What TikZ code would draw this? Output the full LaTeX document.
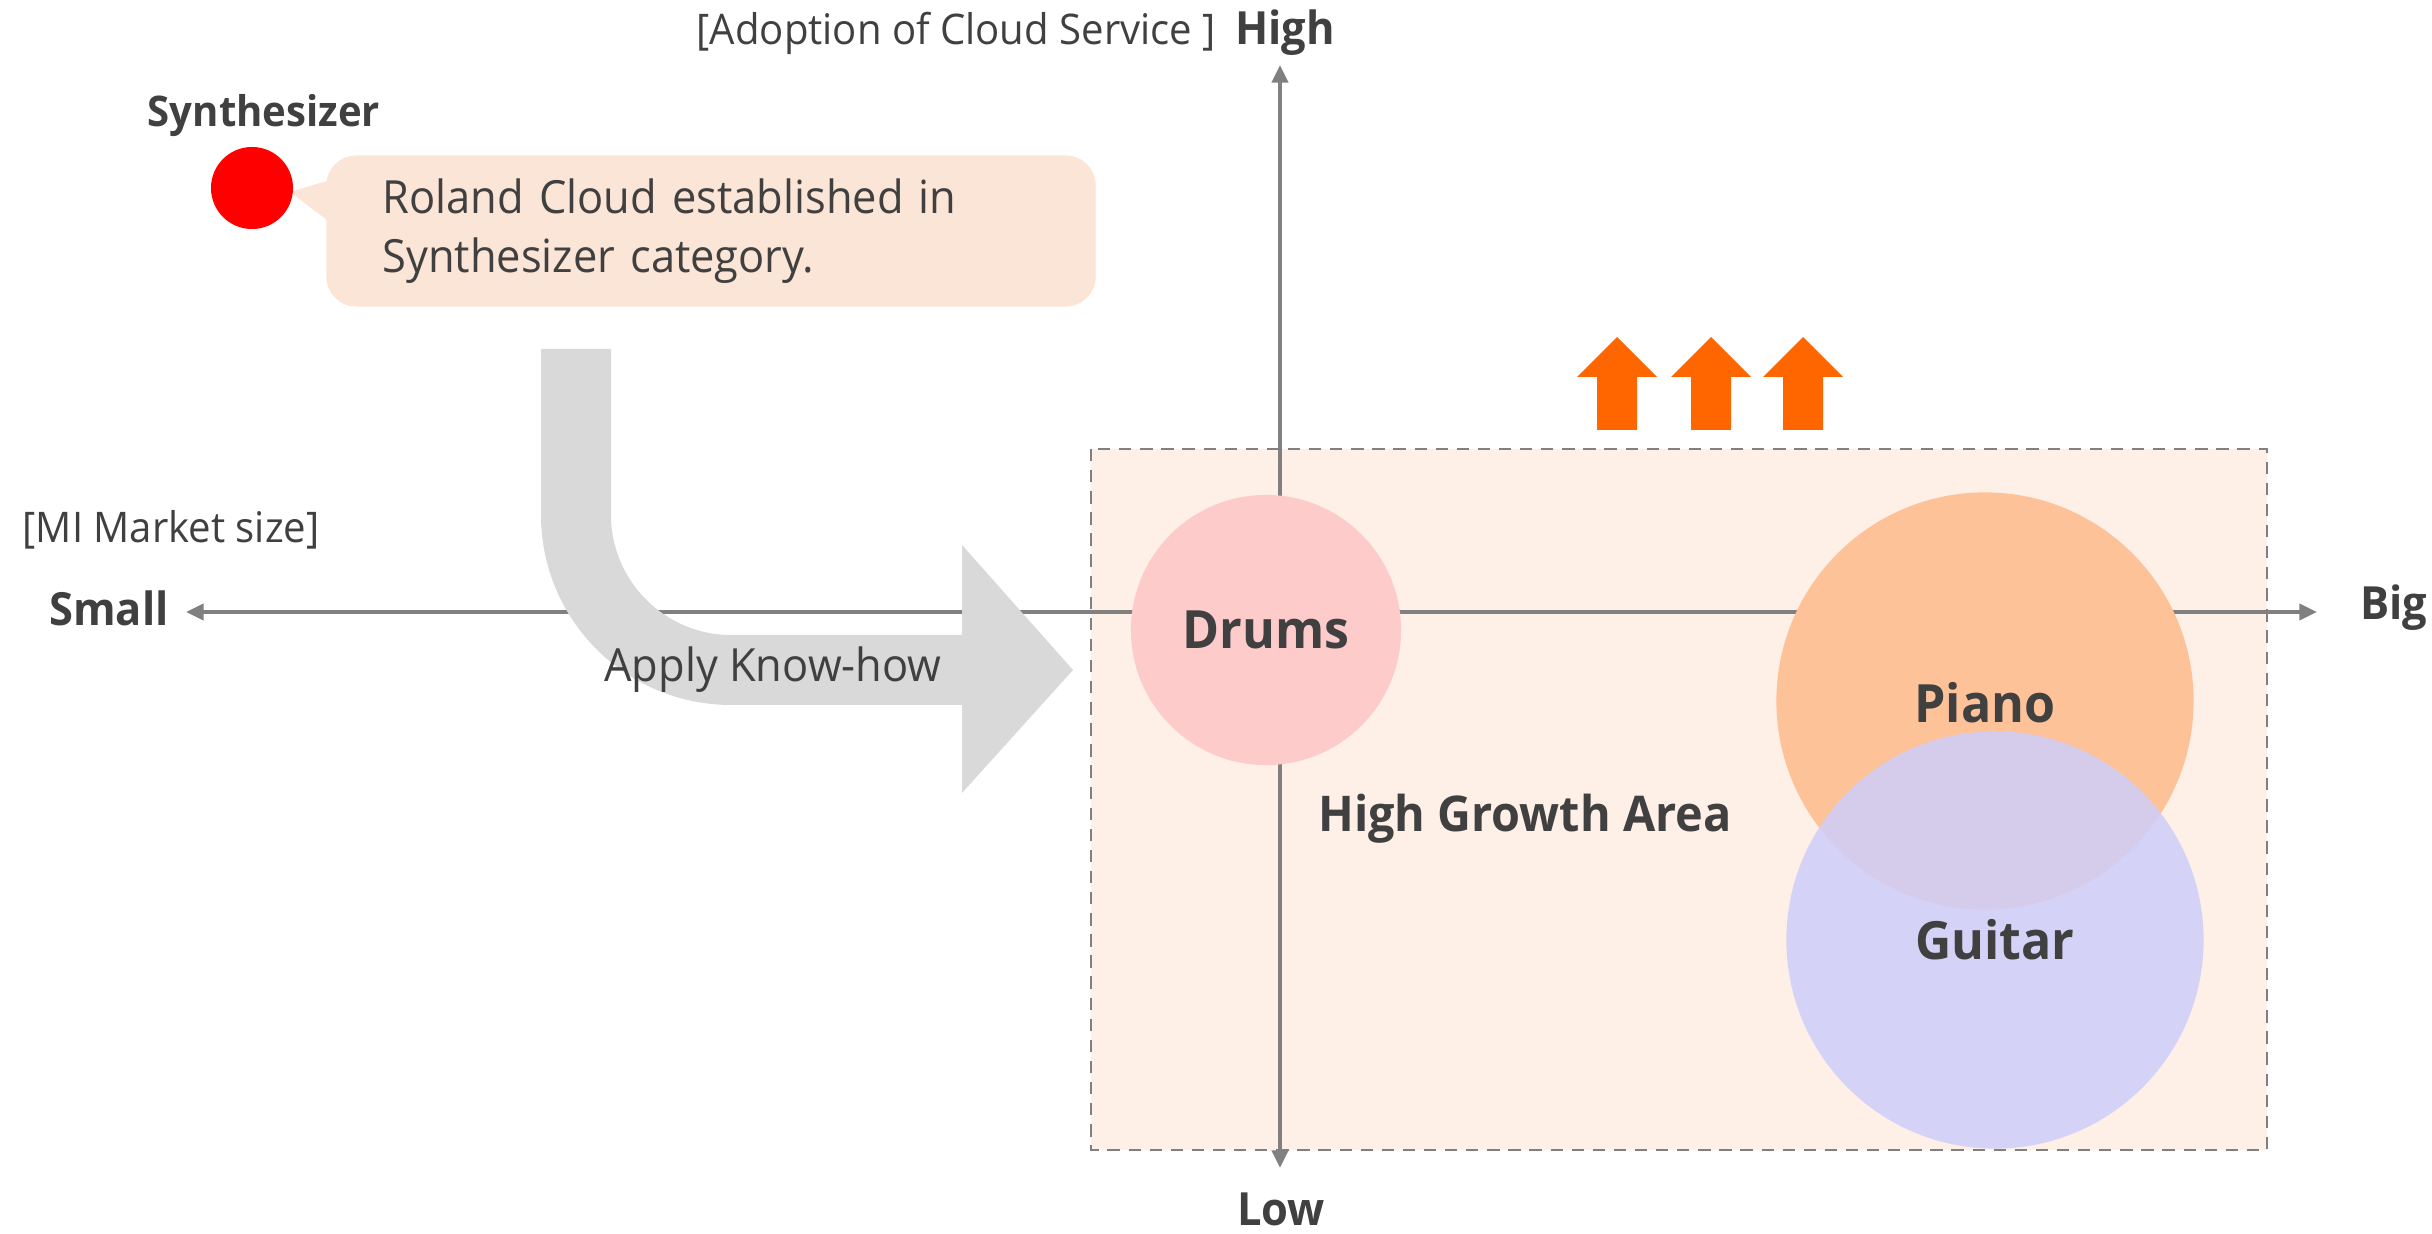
\documentclass[tikz,border=0pt]{standalone}
\usepackage{fontspec}
\setmainfont{Open Sans}[FakeStretch=0.95]
\usepackage{tikz}
\usetikzlibrary{positioning,arrows.meta}
\usepackage{xcolor}
\definecolor{txtgray}{RGB}{64,64,64}
\definecolor{axisgray}{RGB}{128,128,128}
\definecolor{notefill}{RGB}{251,229,214}
\definecolor{areafill}{RGB}{254,239,231}
\definecolor{bendfill}{RGB}{217,217,217}
\definecolor{drumfill}{RGB}{254,203,203}
\definecolor{pianofill}{RGB}{254,194,153}
\definecolor{guitarfill}{RGB}{206,206,250}
\definecolor{upfill}{RGB}{255,102,0}

\begin{document}
\begin{tikzpicture}[x=0.01cm,y=-0.01cm]
	\tikzstyle{every node}=[font=\fontsize{13}{16.8}\selectfont, text=txtgray, inner sep=0pt]
	\tikzstyle{axis}=[draw=axisgray, line width=1.3pt, >={Triangle[length=5pt,width=4.5pt]}, <->]
	\tikzstyle{bold}=[font=\bfseries\fontsize{13}{16}\selectfont]
	\tikzstyle{small}=[font=\fontsize{12}{14}\selectfont]
	\useasboundingbox (0,0) rectangle (2432,1234);

	% synthesizer callout
	\fill[notefill] (327,181) -- (290,192) -- (327,220) -- cycle;
	\draw (711,231) node (note) [fill=notefill, rounded corners=0.3cm, minimum height=1.51cm, text width=6.57cm, inner xsep=0.56cm, align=left] {Roland Cloud established in\\Synthesizer category.};
	\draw (252,188) node (red) [circle, fill=red, minimum size=0.82cm] {};
	\draw (264,116) node (synth) [font=\bfseries\fontsize{12}{14}\selectfont] {Synthesizer};

	% high growth area
	\draw[draw=axisgray, line width=0.6pt, dash pattern=on 3.5pt off 2.5pt, fill=areafill] (1091,449) rectangle (2267,1150);
	\foreach \x in {1617,1711,1803}
		\fill[upfill] (\x-20,430) -- (\x-20,377) -- (\x-40,377) -- (\x,337) -- (\x+40,377) -- (\x+20,377) -- (\x+20,430) -- cycle;

	% axes
	\coordinate (ytop) at (1280,65);
	\coordinate (ybot) at (1280,1168);
	\coordinate (xleft) at (186,612);
	\coordinate (xright) at (2317,612);
	\draw[axis] (ybot) -- (ytop);
	\draw[axis] (xleft) -- (xright);
	\draw (1285,33) node (high) [bold] {High};
	\draw (1281,1209) node (low) [bold] {Low};
	\draw (109,608) node (small) [bold] {Small};
	\draw (2394,608) node (big) [bold] {Big};
	\node (adopt) [small, anchor=base east] at ([xshift=-0.18cm]high.base west) {[Adoption of Cloud Service ]};
	\draw (22,530) node (market) [small, anchor=west] {[MI Market size]};

	% know-how arrow
	\fill[bendfill] (541,349) -- (541,515) .. controls (541,620) and (626,705) .. (731,705) -- (962,705) -- (962,793) -- (1073,670) -- (962,545) -- (962,635) -- (731,635) .. controls (665,635) and (611,581) .. (611,515) -- (611,349) -- cycle;
	\draw (773,670) node (apply) {Apply Know-how};

	% instruments
	\tikzstyle{every node}=[circle, text=txtgray, inner sep=0pt, font=\bfseries\fontsize{15}{18}\selectfont]
	\draw (1266,630) node (drums) [fill=drumfill, minimum size=2.7cm] {Drums};
	\draw (1985,701) node (piano) [fill=pianofill, minimum size=4.17cm] {};
	\draw (1985,703) node (pianolbl) {Piano};
	\draw (1995,940) node (guitar) [fill=guitarfill, fill opacity=0.85, text opacity=1, minimum size=4.17cm] {Guitar};
	\draw (1525,819) node (area) [circle=false, font=\bfseries\fontsize{14}{17}\selectfont] {High Growth Area};
\end{tikzpicture}
\end{document}
